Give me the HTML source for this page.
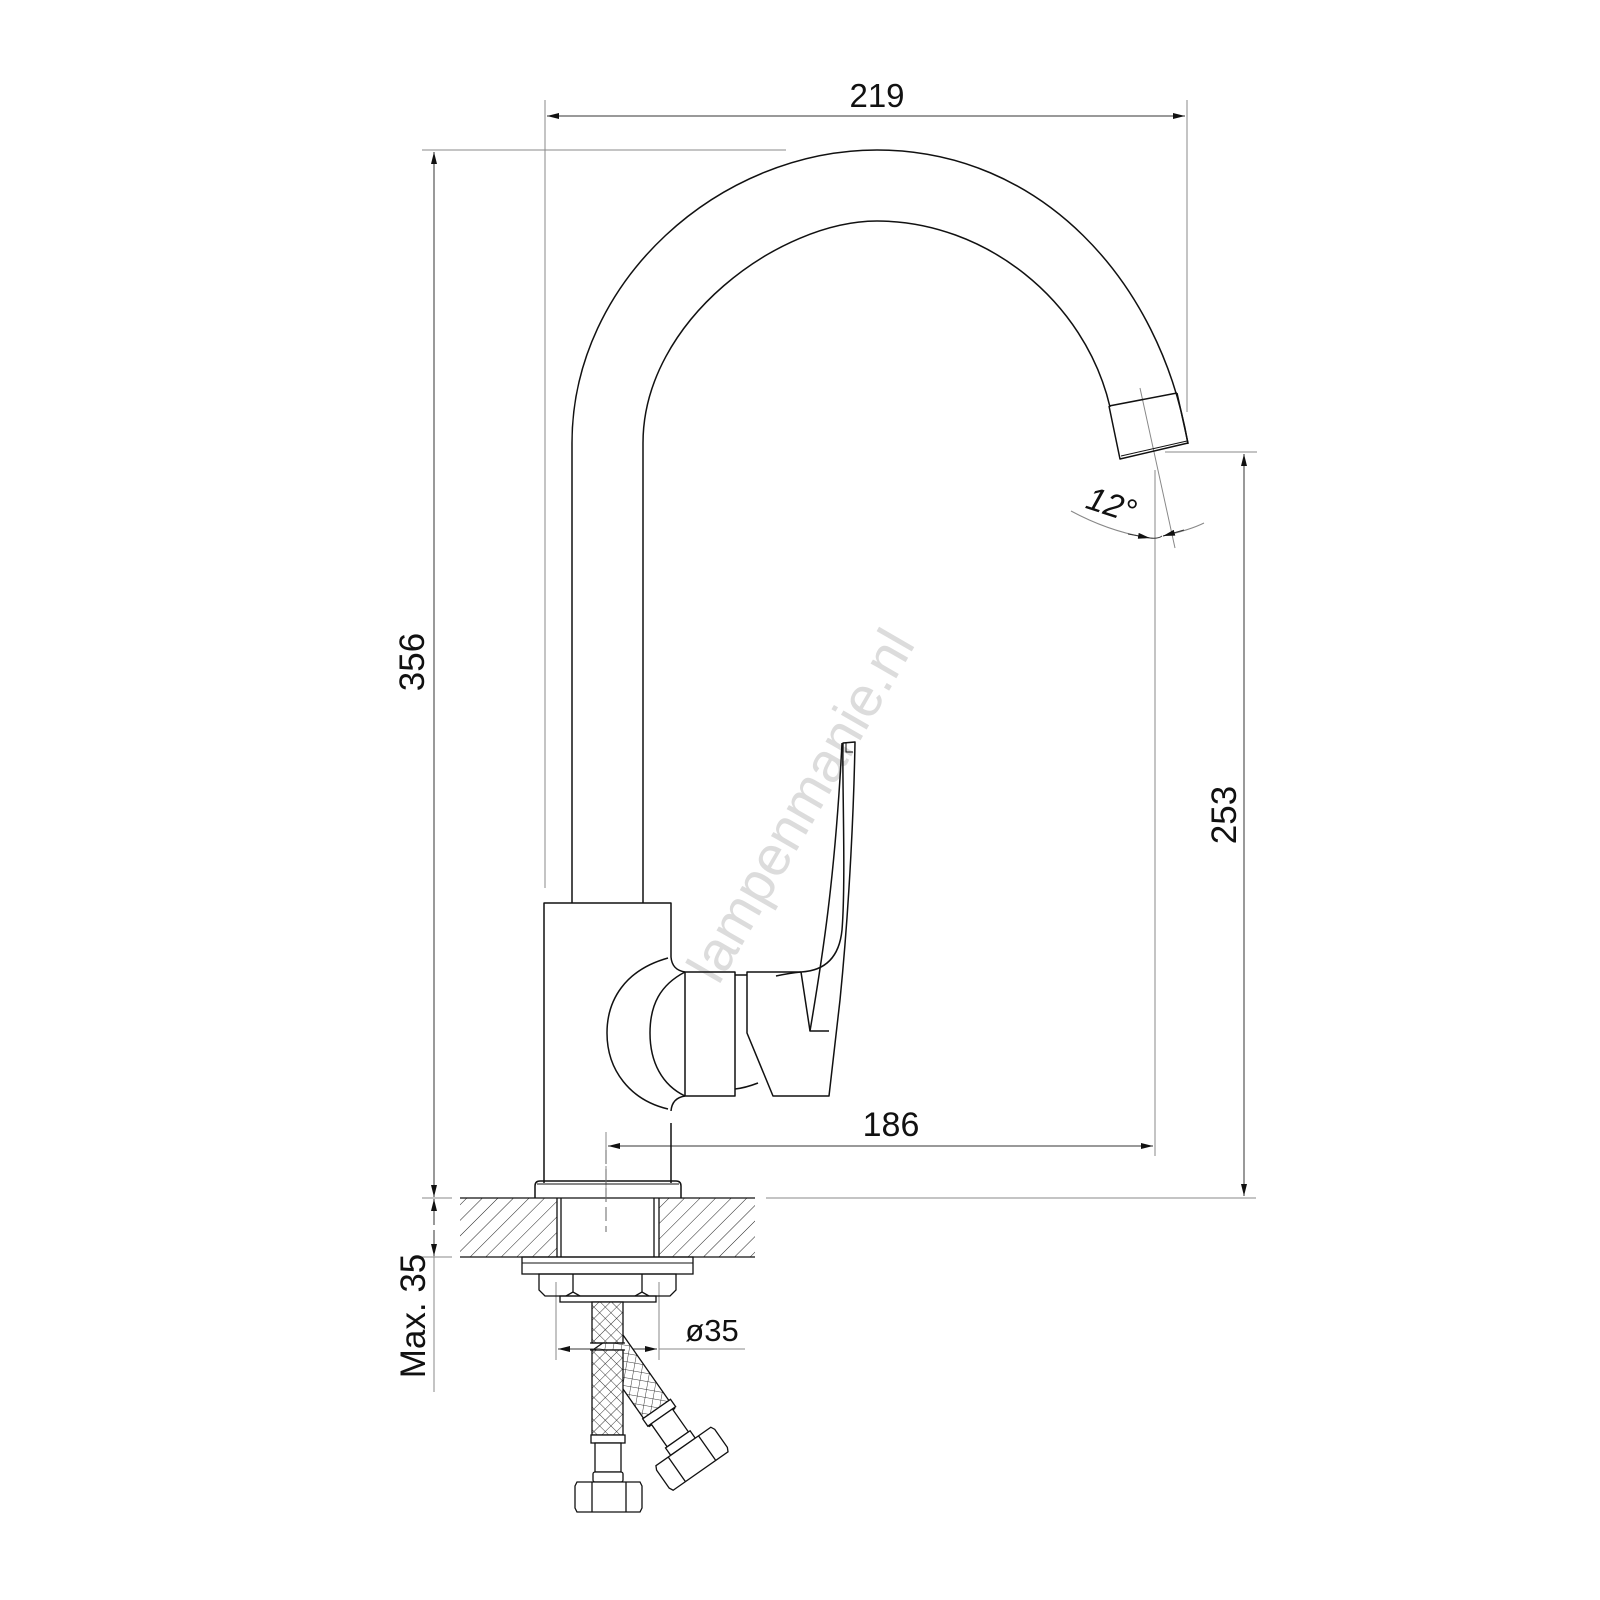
<!DOCTYPE html>
<html><head><meta charset="utf-8"><style>
html,body{margin:0;padding:0;background:#fff}
svg{display:block}
text{font-family:"Liberation Sans",sans-serif;fill:#111}
</style></head><body>
<svg width="1600" height="1600" viewBox="0 0 1600 1600" xmlns="http://www.w3.org/2000/svg">
<defs>
<pattern id="hatch" width="11" height="11" patternUnits="userSpaceOnUse" patternTransform="rotate(45)">
<line x1="0" y1="0" x2="0" y2="11" stroke="#222" stroke-width="1"/>
</pattern>
<pattern id="mesh" width="8" height="8" patternUnits="userSpaceOnUse" patternTransform="rotate(45)">
<rect width="8" height="8" fill="#fff"/>
<line x1="0" y1="0" x2="0" y2="8" stroke="#222" stroke-width="0.9"/>
<line x1="0" y1="0" x2="8" y2="0" stroke="#222" stroke-width="0.9"/>
</pattern>
<marker id="ar" viewBox="0 0 12 6" refX="12" refY="3" markerWidth="12" markerHeight="6" orient="auto-start-reverse" markerUnits="userSpaceOnUse">
<path d="M0,0 L12,3 L0,6 z" fill="#111"/>
</marker>
</defs>

<!-- watermark -->
<text x="800" y="825" font-size="56" fill="#dcdcdc" style="fill:#dcdcdc" text-anchor="middle" transform="rotate(-60 800 805)">lampenmanie.nl</text>

<g stroke="#888" stroke-width="1" fill="none">
<line x1="545" y1="100" x2="545" y2="888"/>
<line x1="1187" y1="100" x2="1187" y2="412"/>
<line x1="547" y1="116" x2="1185" y2="116" stroke="#333" marker-start="url(#ar)" marker-end="url(#ar)"/>
<line x1="422" y1="150" x2="786" y2="150"/>
<line x1="434" y1="152" x2="434" y2="1196" stroke="#333" marker-start="url(#ar)"/>
<line x1="434" y1="1170" x2="434" y2="1197" stroke="#333" marker-end="url(#ar)"/>
<line x1="434" y1="1199" x2="434" y2="1225" stroke="#333" marker-start="url(#ar)"/>
<line x1="434" y1="1230" x2="434" y2="1256" stroke="#333" marker-end="url(#ar)"/>
<line x1="434" y1="1256" x2="434" y2="1392"/>
<line x1="422" y1="1198" x2="452" y2="1198"/>
<line x1="422" y1="1257" x2="452" y2="1257"/>
<line x1="1165" y1="452" x2="1257" y2="452"/>
<line x1="766" y1="1198" x2="1256" y2="1198"/>
<line x1="1244" y1="454" x2="1244" y2="1196" stroke="#333" marker-start="url(#ar)" marker-end="url(#ar)"/>
<line x1="1155" y1="470" x2="1155" y2="1156"/>
<line x1="606" y1="1132" x2="606" y2="1160"/>
<line x1="606" y1="1166" x2="606" y2="1188" stroke-dasharray="10,4"/>
<line x1="608" y1="1146" x2="1153" y2="1146" stroke="#333" marker-start="url(#ar)" marker-end="url(#ar)"/>
<line x1="1140" y1="388" x2="1175" y2="548"/>
<path d="M1071,511 Q1110,532 1150,538" />
<path d="M1150,538 Q1158,539 1162,536" stroke="#333"/>
<path d="M1163,536 Q1190,530 1204,523"/>
<path d="M1128,534 L1150,538" stroke="#333" marker-end="url(#ar)"/>
<path d="M1184,530 L1163,536" stroke="#333" marker-end="url(#ar)"/>
<line x1="556" y1="1282" x2="556" y2="1360"/>
<line x1="659" y1="1282" x2="659" y2="1360"/>
<line x1="558" y1="1349" x2="657" y2="1349" stroke="#333" marker-start="url(#ar)" marker-end="url(#ar)"/>
<line x1="659" y1="1349" x2="745" y2="1349"/>
</g>

<text x="877" y="107" font-size="33" text-anchor="middle">219</text>
<text x="891" y="1136" font-size="34" text-anchor="middle">186</text>
<text x="0" y="0" font-size="35" text-anchor="middle" transform="translate(424 662) rotate(-90)">356</text>
<text x="0" y="0" font-size="35" text-anchor="middle" transform="translate(1236 815) rotate(-90)">253</text>
<text x="0" y="0" font-size="35" text-anchor="middle" transform="translate(425 1316) rotate(-90)">Max. 35</text>
<text x="712" y="1341" font-size="31" text-anchor="middle">ø35</text>
<text x="1112" y="516" font-size="33" font-style="italic" text-anchor="middle" transform="rotate(18 1112 503)">12°</text>

<g stroke="#111" stroke-width="1.5" fill="none" stroke-linejoin="round">
<path d="M572,903 L572,443 C572,280 720,150 877,150 C1040,150 1160,280 1188,444"/>
<path d="M643,903 L643,443 C643,320 780,221 877,221 C985,221 1085,300 1110,407"/>
<path d="M1109,406 L1177,393"/>
<path d="M1109,406 L1120,459 L1188,443 L1177,393"/>
<path d="M1121,456 L1187,441" stroke-width="1"/>
<path d="M544,1183 L544,903 L671,903 L671,957"/>
<path d="M671,1123 L671,1183"/>
<path d="M671,957 Q672,970 685,972"/>
<path d="M685,1096 Q672,1098 671,1111"/>
<path d="M668,958 C625,970 607,1000 607,1033 C607,1070 630,1100 668,1109"/>
<path d="M685,972 C660,985 650,1005 650,1033 C650,1062 662,1085 685,1096"/>
<rect x="685" y="972" width="50" height="124"/>
<path d="M735,975 L747,975 M735,1089 Q745,1088 758,1083"/>
<path d="M747,972 L801,972 Q838,970 842,930 C846,880 842,780 843,743 L855,742 C854,800 850,900 840,1000 L829,1096 L773,1096 L747,1033 Z"/>
<path d="M776,976 Q790,973 801,972"/>
<path d="M801,972 L810,1031 L829,1031"/>
<path d="M810,1031 C822,960 835,880 842,743"/>
<path d="M846,743 L846,752 L853,752" stroke-width="1"/>
<path d="M535,1198 L535,1186 Q535,1181 540,1181 L676,1181 Q681,1181 681,1186 L681,1198"/>
<line x1="537" y1="1184" x2="679" y2="1184" stroke-width="1"/>
</g>

<rect x="460" y="1198" width="97" height="59" fill="url(#hatch)" stroke="none"/>
<rect x="659" y="1198" width="96" height="59" fill="url(#hatch)" stroke="none"/>
<g stroke="#111" stroke-width="1.3" fill="none">
<line x1="460" y1="1198" x2="755" y2="1198"/>
<line x1="460" y1="1257" x2="755" y2="1257"/>
<line x1="557" y1="1198" x2="557" y2="1257"/>
<line x1="561" y1="1198" x2="561" y2="1257"/>
<line x1="654" y1="1198" x2="654" y2="1257"/>
<line x1="659" y1="1198" x2="659" y2="1257"/>
<rect x="522" y="1257" width="171" height="17"/>
<line x1="522" y1="1263" x2="693" y2="1263" stroke-width="1"/>
<path d="M539,1274 L676,1274 L676,1290 L670,1296 L545,1296 L539,1290 Z"/>
<line x1="573" y1="1274" x2="573" y2="1292"/>
<line x1="642" y1="1274" x2="642" y2="1292"/>
<path d="M566,1296 L573,1292 L580,1296 M635,1296 L642,1292 L649,1296"/>
<rect x="560" y="1296" width="96" height="6"/>
<line x1="606" y1="1150" x2="606" y2="1232" stroke="#666" stroke-width="1" stroke-dasharray="14,5"/>
</g>

<g transform="rotate(-35 607 1340)" stroke="#111" stroke-width="1.3">
<rect x="592" y="1340" width="31" height="95" fill="url(#mesh)"/>
<rect x="591" y="1425" width="34" height="9" fill="#fff"/>
<rect x="595" y="1434" width="26" height="28" fill="#fff"/>
<rect x="593" y="1462" width="30" height="9" fill="#fff"/>
<path d="M575,1471 L642,1471 L644,1475 L644,1497 L642,1501 L575,1501 L573,1497 L573,1475 Z" fill="#fff"/>
<line x1="590" y1="1471" x2="590" y2="1501"/>
<line x1="627" y1="1471" x2="627" y2="1501"/>
</g>

<g stroke="#111" stroke-width="1.3">
<rect x="592" y="1302" width="31" height="41" fill="url(#mesh)"/>
<line x1="590" y1="1343" x2="625" y2="1343"/>
<line x1="590" y1="1350" x2="625" y2="1350"/>
<rect x="592" y="1350" width="31" height="85" fill="url(#mesh)"/>
<rect x="591" y="1435" width="34" height="8" fill="#fff"/>
<rect x="595" y="1443" width="26" height="29" fill="#fff"/>
<rect x="593" y="1472" width="30" height="10" rx="2" fill="#fff"/>
<path d="M577,1482 L640,1482 L642,1486 L642,1508 L640,1512 L577,1512 L575,1508 L575,1486 Z" fill="#fff"/>
<line x1="592" y1="1482" x2="592" y2="1512"/>
<line x1="626" y1="1482" x2="626" y2="1512"/>
</g>
</svg>
</body></html>
